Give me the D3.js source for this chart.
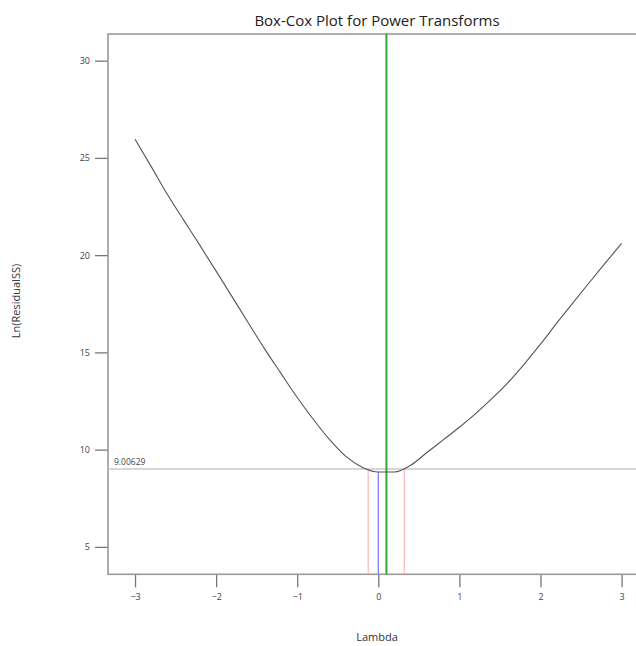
<!DOCTYPE html>
<html>
<head>
<meta charset="utf-8">
<script src="https://cdn.jsdelivr.net/npm/d3@7"></script>
<style>
  html, body { margin: 0; padding: 0; background: #fff; }
  svg { display: block; font-family: "Open Sans", "Noto Sans", sans-serif; }
</style>
</head>
<body>
<svg id="chart" width="636" height="646"></svg>
<script>
// Box-Cox profile: ln(residual SS) against lambda
const lambdas = [-3.0, -2.8, -2.6, -2.4, -2.2, -2.0, -1.8, -1.6, -1.4, -1.2, -1.0,
                 -0.8, -0.6, -0.4, -0.2, 0.0, 0.2, 0.4, 0.6, 0.8, 1.0,
                 1.2, 1.4, 1.6, 1.8, 2.0, 2.2, 2.4, 2.6, 2.8, 3.0];
const lnResidualSS = [25.96, 24.55, 23.12, 21.80, 20.50, 19.18, 17.84, 16.50, 15.17, 13.92, 12.68,
                      11.55, 10.51, 9.65, 9.10, 8.85, 8.85, 9.20, 9.85, 10.50, 11.15,
                      11.85, 12.62, 13.45, 14.40, 15.42, 16.50, 17.55, 18.58, 19.60, 20.60];
const xTicks = [-3, -2, -1, 0, 1, 2, 3];
const yTicks = [5, 10, 15, 20, 25, 30];
const threshold = 9.00629;      // confidence cut-off for ln(RSS)
const bestLambda = 0.1;         // optimal lambda
const roundedLambda = 0.0;      // rounded lambda
const ciLow = -0.125;           // confidence interval bounds
const ciHigh = 0.32;

const svg = d3.select("#chart");
const plotLeft = 108, plotRight = 648.6, plotTop = 34, plotBottom = 574.3;

const x = d3.scaleLinear().domain([-10 / 3, 10 / 3]).range([plotLeft, plotRight]);
const y = d3.scaleLinear().domain([3.59, 31.37]).range([plotBottom, plotTop]);

// title
svg.append("text")
  .attr("x", 377).attr("y", 26)
  .attr("text-anchor", "middle")
  .attr("font-size", 15)
  .attr("fill", "#222")
  .text("Box-Cox Plot for Power Transforms");

// axes
const xAxis = svg.append("g")
  .attr("transform", `translate(0,${plotBottom})`)
  .call(d3.axisBottom(x).tickValues(xTicks).tickSize(13).tickPadding(6).tickFormat(d3.format("d")));
const yAxis = svg.append("g")
  .attr("transform", `translate(${plotLeft},0)`)
  .call(d3.axisLeft(y).tickValues(yTicks).tickSize(13).tickPadding(5).tickFormat(d3.format("d")));
[xAxis, yAxis].forEach(g => {
  g.select(".domain").remove();
  g.selectAll(".tick line").attr("stroke", "#777").attr("stroke-width", 1.3);
  g.selectAll(".tick text").attr("fill", "#444").attr("font-size", 9)
    .attr("font-family", "'Open Sans', 'Noto Sans', sans-serif");
});

// plot frame
svg.append("rect")
  .attr("x", plotLeft).attr("y", plotTop)
  .attr("width", plotRight - plotLeft).attr("height", plotBottom - plotTop)
  .attr("fill", "none").attr("stroke", "#999").attr("stroke-width", 1.6);

// threshold line and its label
svg.append("line")
  .attr("x1", plotLeft).attr("x2", plotRight)
  .attr("y1", y(threshold)).attr("y2", y(threshold))
  .attr("stroke", "#c8c8c8").attr("stroke-width", 1.5);
svg.append("text")
  .attr("x", plotLeft + 6).attr("y", y(threshold) - 4)
  .attr("font-size", 8.5).attr("fill", "#444")
  .text(threshold.toString());

// confidence interval bounds
[ciLow, ciHigh].forEach(l => {
  svg.append("line")
    .attr("x1", x(l)).attr("x2", x(l))
    .attr("y1", y(threshold)).attr("y2", plotBottom)
    .attr("stroke", "#ffb3b3").attr("stroke-width", 1.2);
});

// rounded lambda
svg.append("line")
  .attr("x1", x(roundedLambda)).attr("x2", x(roundedLambda))
  .attr("y1", y(8.85)).attr("y2", plotBottom)
  .attr("stroke", "#7070ff").attr("stroke-width", 1.2);

// best lambda
svg.append("line")
  .attr("x1", x(bestLambda)).attr("x2", x(bestLambda))
  .attr("y1", plotTop).attr("y2", plotBottom)
  .attr("stroke", "#33a833").attr("stroke-width", 2);

// profile curve
const pts = lambdas.map((l, i) => [l, lnResidualSS[i]]);
svg.append("path")
  .datum(pts)
  .attr("fill", "none").attr("stroke", "#555").attr("stroke-width", 1.1)
  .attr("d", d3.line().curve(d3.curveMonotoneX).x(d => x(d[0])).y(d => y(d[1])));

// axis titles
svg.append("text")
  .attr("x", 377).attr("y", 641)
  .attr("text-anchor", "middle").attr("font-size", 11).attr("fill", "#333")
  .text("Lambda");
svg.append("text")
  .attr("transform", "translate(20,301) rotate(-90)")
  .attr("text-anchor", "middle").attr("font-size", 11).attr("fill", "#333")
  .text("Ln(ResidualSS)");
</script>
</body>
</html>
